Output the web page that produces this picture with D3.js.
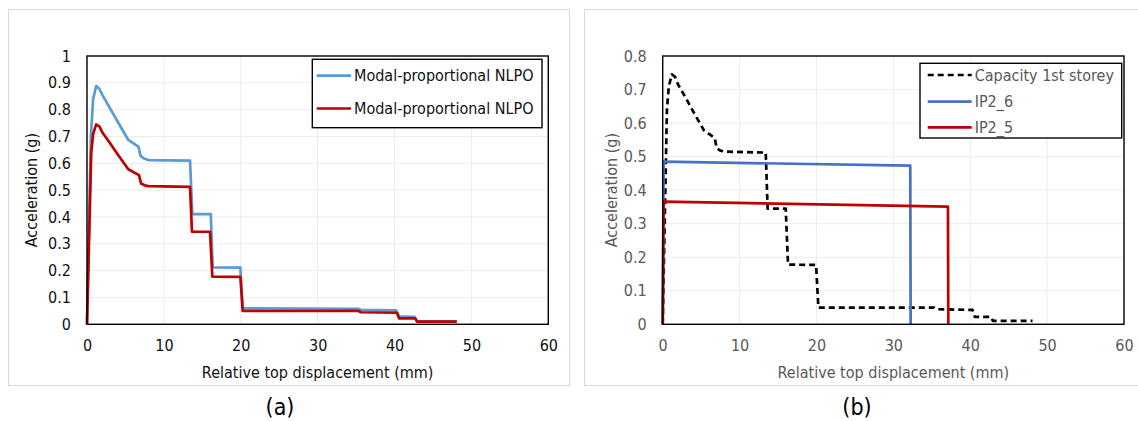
<!DOCTYPE html>
<html>
<head>
<meta charset="utf-8">
<script src="https://cdn.jsdelivr.net/npm/d3@7"></script>
<style>
  html, body { margin: 0; padding: 0; background: #fff; }
  svg { display: block; }
  text { font-family: "DejaVu Sans Condensed", "DejaVu Sans", sans-serif; font-stretch: condensed; }
</style>
</head>
<body>
<svg id="chart" width="1138" height="421"></svg>
<script>
// ---------------- DATA ----------------
// Panel (a) – first curve (blue)
const nlpoBlueMm = [0, 0.5, 0.8, 1.2, 1.6, 2, 3, 4, 5.37, 6.68, 6.98, 7.5, 8, 13.4, 13.7, 16.1, 16.35, 19.95, 20.25, 35.3, 35.6, 40.2, 40.6, 42.6, 42.9, 48.1];
const nlpoBlueG  = [0, 0.70, 0.84, 0.888, 0.878, 0.855, 0.805, 0.755, 0.687, 0.662, 0.627, 0.617, 0.612, 0.61, 0.411, 0.411, 0.212, 0.211, 0.06, 0.058, 0.054, 0.052, 0.03, 0.028, 0.011, 0.011];
// Panel (a) – second curve (red) = capacity of 1st storey in panel (b)
const capacityMm = [0, 0.55, 0.8, 1.2, 1.6, 2, 3, 4, 5.37, 6.76, 7.03, 7.5, 8, 13.4, 13.65, 16.0, 16.3, 19.95, 20.25, 35.3, 35.6, 40.3, 40.6, 42.7, 42.95, 48.1];
const capacityG  = [0, 0.64, 0.71, 0.745, 0.738, 0.715, 0.675, 0.633, 0.578, 0.556, 0.525, 0.518, 0.515, 0.512, 0.345, 0.345, 0.178, 0.177, 0.05, 0.05, 0.045, 0.043, 0.022, 0.022, 0.01, 0.01];
// Panel (b) – bilinear demand curves
const ip26Mm = [0, 0.12, 32.2, 32.25];
const ip26G  = [0, 0.485, 0.473, 0];
const ip25Mm = [0, 0.12, 37.1, 37.15];
const ip25G  = [0, 0.366, 0.351, 0];

const xTicks = [0, 10, 20, 30, 40, 50, 60];
const yTicksA = [0, 0.1, 0.2, 0.3, 0.4, 0.5, 0.6, 0.7, 0.8, 0.9, 1];
const yTicksB = [0, 0.1, 0.2, 0.3, 0.4, 0.5, 0.6, 0.7, 0.8];

const xTitle = "Relative top displacement (mm)";
const yTitle = "Acceleration (g)";
const legendA = ["Modal-proportional NLPO", "Modal-proportional NLPO"];
const legendB = ["Capacity 1st storey", "IP2_6", "IP2_5"];
const panelLabels = ["(a)", "(b)"];

// ---------------- DRAW ----------------
const svg = d3.select("#chart");
const zip = (xs, ys) => xs.map((x, i) => [x, ys[i]]);

function panel(cfg) {
  const g = svg.append("g");
  // outer frame
  g.append("rect").attr("x", cfg.frame[0]).attr("y", cfg.frame[1])
    .attr("width", cfg.frame[2]).attr("height", cfg.frame[3])
    .attr("fill", "none").attr("stroke", "#d9d9d9").attr("stroke-width", 1);

  const x = d3.scaleLinear().domain([0, 60]).range([cfg.left, cfg.right]);
  const y = d3.scaleLinear().domain([0, cfg.yMax]).range([cfg.bottom, cfg.top]);

  // grid
  g.append("g").selectAll("line.vg").data(xTicks).join("line")
    .attr("x1", d => x(d)).attr("x2", d => x(d)).attr("y1", cfg.top).attr("y2", cfg.bottom)
    .attr("stroke", "#ececec").attr("stroke-width", 1);
  g.append("g").selectAll("line.hg").data(cfg.yTicks).join("line")
    .attr("x1", cfg.left).attr("x2", cfg.right).attr("y1", d => y(d)).attr("y2", d => y(d))
    .attr("stroke", "#ececec").attr("stroke-width", 1);

  // axes (labels only, no tick marks)
  const xa = g.append("g").attr("transform", `translate(0,${cfg.bottom})`)
    .call(d3.axisBottom(x).tickValues(xTicks).tickSize(0).tickPadding(15).tickFormat(d3.format("d")));
  const ya = g.append("g").attr("transform", `translate(${cfg.left},0)`)
    .call(d3.axisLeft(y).tickValues(cfg.yTicks).tickSize(0).tickPadding(16).tickFormat(d => d === 0 ? "0" : d3.format("~g")(d)));
  [xa, ya].forEach(a => {
    a.select(".domain").remove();
    a.selectAll("text").attr("font-size", 16).attr("fill", cfg.textColor)
      .attr("font-family", '"DejaVu Sans Condensed", "DejaVu Sans", sans-serif');
  });

  // series
  const line = d3.line().x(d => x(d[0])).y(d => y(d[1]));
  cfg.series.forEach(s => {
    g.append("path").datum(zip(s.xs, s.ys)).attr("d", line)
      .attr("fill", "none").attr("stroke", s.color).attr("stroke-width", 2.7)
      .attr("stroke-linejoin", "round")
      .attr("stroke-dasharray", s.dash || null);
  });

  // plot border
  g.append("rect").attr("x", cfg.left).attr("y", cfg.top)
    .attr("width", cfg.right - cfg.left).attr("height", cfg.bottom - cfg.top)
    .attr("fill", "none").attr("stroke", "#000").attr("stroke-width", 1.4);

  // axis titles
  g.append("text").attr("x", (cfg.left + cfg.right) / 2).attr("y", 372)
    .attr("text-anchor", "middle").attr("dominant-baseline", "central")
    .attr("font-size", 16).attr("fill", cfg.textColor).text(xTitle);
  g.append("text").attr("transform", `translate(${cfg.yTitleX},${(cfg.top + cfg.bottom) / 2}) rotate(-90)`)
    .attr("text-anchor", "middle").attr("dominant-baseline", "central")
    .attr("font-size", 16).attr("fill", cfg.textColor).text(yTitle);

  // legend
  const L = cfg.legend;
  g.append("rect").attr("x", L.box[0]).attr("y", L.box[1]).attr("width", L.box[2]).attr("height", L.box[3])
    .attr("fill", "#fff").attr("stroke", "#000").attr("stroke-width", 1.4);
  cfg.series.forEach((s, i) => {
    const yy = L.rows[i];
    g.append("line").attr("x1", L.x1).attr("x2", L.x2).attr("y1", yy).attr("y2", yy)
      .attr("stroke", s.color).attr("stroke-width", 2.7).attr("stroke-dasharray", s.dash || null);
    g.append("text").attr("x", L.x2 + 3).attr("y", yy).attr("dominant-baseline", "central")
      .attr("font-size", 16).attr("fill", cfg.textColor).text(s.name);
  });

  // panel label
  g.append("text").attr("x", cfg.labelX).attr("y", 407).attr("text-anchor", "middle")
    .attr("dominant-baseline", "central").attr("font-size", 23).attr("fill", "#000").text(cfg.label);
}

panel({
  frame: [8.5, 9.5, 561, 376], left: 87, right: 548.3, top: 56, bottom: 324.3,
  yMax: 1, yTicks: yTicksA, textColor: "#111", yTitleX: 31, labelX: 280, label: panelLabels[0],
  series: [
    { name: legendA[0], xs: nlpoBlueMm, ys: nlpoBlueG, color: "#5b9bd5" },
    { name: legendA[1], xs: capacityMm, ys: capacityG, color: "#c00000" }
  ],
  legend: { box: [312.3, 59.3, 229.7, 68.4], rows: [75.7, 108.5], x1: 316.7, x2: 351 }
});

panel({
  frame: [584.5, 9.5, 560, 376], left: 662.7, right: 1124, top: 56, bottom: 324.3,
  yMax: 0.8, yTicks: yTicksB, textColor: "#595959", yTitleX: 611, labelX: 857, label: panelLabels[1],
  series: [
    { name: legendB[0], xs: capacityMm, ys: capacityG, color: "#000", dash: "6,4" },
    { name: legendB[1], xs: ip26Mm, ys: ip26G, color: "#4472c4" },
    { name: legendB[2], xs: ip25Mm, ys: ip25G, color: "#c00000" }
  ],
  legend: { box: [920, 63.3, 201.7, 74.7], rows: [75, 101.7, 127.3], x1: 927.7, x2: 971.7 }
});
</script>
</body>
</html>
